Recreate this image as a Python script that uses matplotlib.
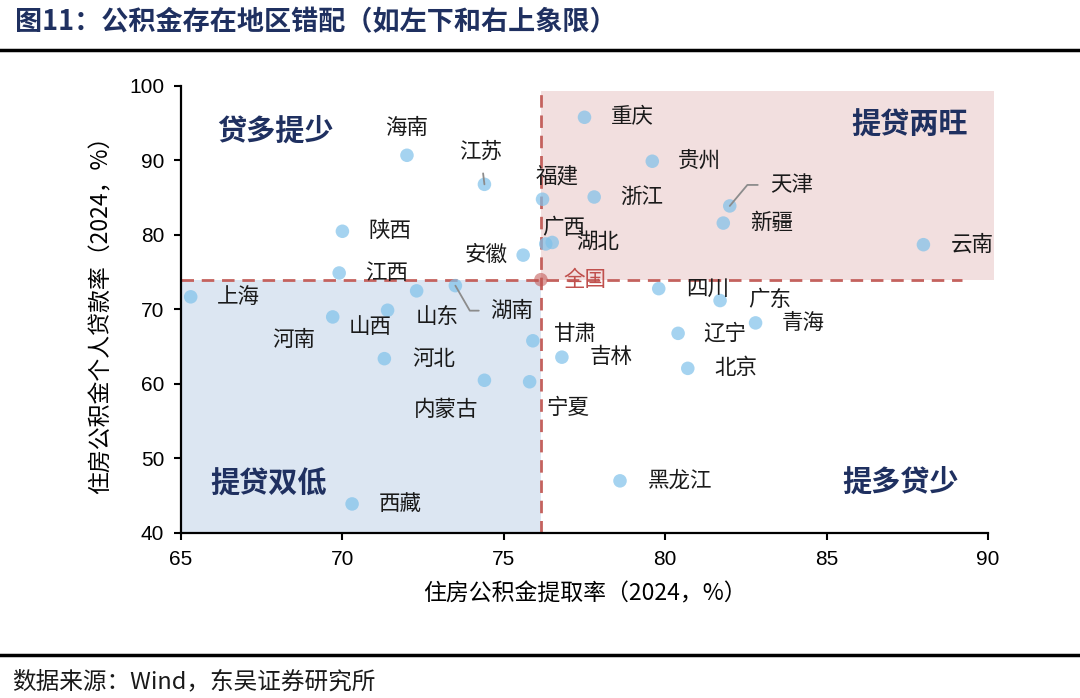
import matplotlib.pyplot as plt
from matplotlib.patches import Rectangle
from matplotlib.lines import Line2D

plt.rcParams['font.family'] = ['Noto Sans CJK SC', 'DejaVu Sans']

# data: withdrawal rate (x) and personal loan rate (y), 2024, %
provinces = ['上海', '海南', '江苏', '福建', '重庆', '贵州', '浙江', '天津',
             '新疆', '云南', '广西', '湖北', '安徽', '陕西', '江西', '山东',
             '湖南', '山西', '河南', '河北', '内蒙古', '宁夏', '甘肃', '吉林',
             '四川', '广东', '青海', '辽宁', '北京', '黑龙江', '西藏']
withdraw_rate = [65.3, 72.0, 74.4, 76.2, 77.5, 79.6, 77.8, 82.0,
                 81.8, 88.0, 76.3, 76.5, 75.6, 70.0, 69.9, 72.3,
                 73.5, 71.4, 69.7, 71.3, 74.4, 75.8, 75.9, 76.8,
                 79.8, 81.7, 82.8, 80.4, 80.7, 78.6, 70.3]
loan_rate = [71.7, 90.7, 86.8, 84.8, 95.8, 89.9, 85.1, 83.9,
             81.6, 78.7, 78.8, 79.0, 77.3, 80.5, 74.9, 72.5,
             73.2, 69.9, 69.0, 63.4, 60.5, 60.3, 65.8, 63.6,
             72.8, 71.2, 68.2, 66.8, 62.1, 47.0, 43.9]
national_name = '全国'
national_x = 76.15
national_y = 74.0

quadrant_names = ['贷多提少', '提贷两旺', '提贷双低', '提多贷少']

# label offsets in pixels (dx, dy) relative to the point
label_offset = {
    '上海': (48, 0), '海南': (0, 27), '江苏': (-4, 33), '福建': (15, 23),
    '重庆': (48, 0), '贵州': (47, 0), '浙江': (48, 0), '天津': (62, 21),
    '新疆': (48, 0), '云南': (49, 0), '广西': (18, 16), '湖北': (45, 0),
    '安徽': (-37, 0), '陕西': (48, 0), '江西': (47, 0), '山东': (21, -26),
    '湖南': (56, -25), '山西': (-17, -17), '河南': (-39, -23), '河北': (49, 0),
    '内蒙古': (-38, -30), '宁夏': (38, -26), '甘肃': (43, 7), '吉林': (49, 0),
    '四川': (49, 0), '广东': (50, 1), '青海': (48, 0), '辽宁': (47, 0),
    '北京': (48, 0), '黑龙江': (60, 0), '西藏': (48, 0),
}
leaders = {
    '江苏': dict(arrowstyle='-', color='#8c8c8c', lw=1.3, shrinkA=6, shrinkB=0),
    '天津': dict(arrowstyle='-', color='#8c8c8c', lw=1.3, shrinkA=7, shrinkB=0,
                 relpos=(0, 0.5), connectionstyle='angle,angleA=180,angleB=50,rad=0'),
    '湖南': dict(arrowstyle='-', color='#8c8c8c', lw=1.3, shrinkA=6, shrinkB=0,
                 relpos=(0, 0.5), connectionstyle='angle,angleA=180,angleB=120,rad=0'),
}

navy = '#1f3060'
dash_c = '#c4625e'

fig = plt.figure(figsize=(10.8, 6.98), dpi=100)
ax = fig.add_axes([0.1676, 0.2364, 0.7472, 0.6404])

# quadrant shading
ax.add_patch(Rectangle((65, 40), national_x - 65, national_y - 40,
                       facecolor='#dce6f2', edgecolor='none', zorder=0))
ax.add_patch(Rectangle((national_x, national_y), 90.2 - national_x, 99.3 - national_y,
                       facecolor='#f2dfdf', edgecolor='none', zorder=0, clip_on=False))

# national reference lines
ax.add_line(Line2D([national_x, national_x], [40, 99.7], color=dash_c, lw=2,
                   dashes=(4.5, 2.8), zorder=1, clip_on=False))
ax.add_line(Line2D([65, 89.2], [national_y, national_y], color=dash_c, lw=2,
                   dashes=(4.5, 2.8), zorder=1, clip_on=False))

ax.scatter(withdraw_rate, loan_rate, s=95, color='#7fc1ea', alpha=0.7,
           edgecolors='none', zorder=3)
ax.scatter([national_x], [national_y], s=95, color='#c0504d', alpha=0.55,
           edgecolors='none', zorder=3)

for name, x, y in zip(provinces, withdraw_rate, loan_rate):
    dx, dy = label_offset[name]
    ax.annotate(name, xy=(x, y), xytext=(dx, dy), textcoords='offset pixels',
                ha='center', va='center', fontsize=15.5, color='#1a1a1a',
                arrowprops=leaders.get(name), zorder=4)
ax.annotate(national_name, xy=(national_x, national_y), xytext=(44, 0),
            textcoords='offset pixels', ha='center', va='center',
            fontsize=15.5, color='#c0504d', zorder=4)

# quadrant titles
quad_pos = [(0.1165, 0.899), (0.903, 0.913), (0.108, 0.110), (0.892, 0.114)]
for q, (qx, qy) in zip(quadrant_names, quad_pos):
    ax.text(qx, qy, q, transform=ax.transAxes, ha='center', va='center',
            fontsize=21, fontweight='bold', color=navy)

ax.set_xlim(65, 90)
ax.set_ylim(40, 100)
ax.set_xticks(range(65, 91, 5))
ax.set_yticks(range(40, 101, 10))
for sp in ['top', 'right']:
    ax.spines[sp].set_visible(False)
for sp in ['left', 'bottom']:
    ax.spines[sp].set_linewidth(1.6)
    ax.spines[sp].set_color('black')
ax.tick_params(direction='out', length=5, width=1.5, pad=7, labelsize=15)
for lab in ax.get_xticklabels() + ax.get_yticklabels():
    lab.set_family(['Liberation Sans', 'DejaVu Sans'])

ax.set_xlabel('住房公积金提取率（2024，%）', fontsize=16.5, labelpad=10)
ax.set_ylabel('住房公积金个人贷款率（2024，%）', fontsize=16.5, labelpad=12)

# title, rules and source
fig.text(0.014, 0.9685, '图11：公积金存在地区错配（如左下和右上象限）',
         fontsize=19.5, fontweight='bold', color=navy, ha='left', va='center')
fig.add_artist(Line2D([0, 1], [0.9284, 0.9284], color='black', lw=2.5))
fig.add_artist(Line2D([0, 1], [0.0616, 0.0616], color='black', lw=2.5))
fig.text(0.011, 0.0229, '数据来源：Wind，东吴证券研究所', fontsize=17,
         color='#1a1a1a', ha='left', va='center')

fig.savefig('out.png', dpi=100)
